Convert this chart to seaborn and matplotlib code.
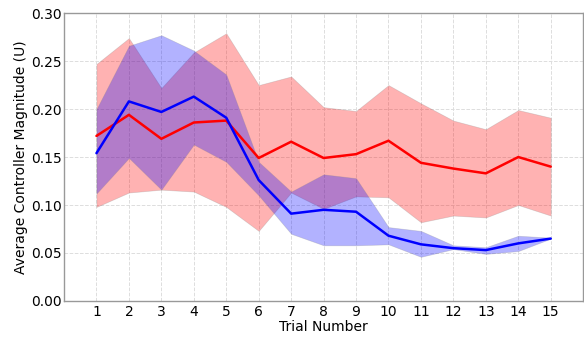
import numpy as np
import pandas as pd
import matplotlib
matplotlib.use("Agg")
import matplotlib.pyplot as plt
import seaborn as sns

trials = list(range(1, 16))

red_mean = [0.172, 0.194, 0.169, 0.186, 0.188, 0.149, 0.166, 0.149, 0.153, 0.167, 0.144, 0.138, 0.133, 0.150, 0.140]
red_upper = [0.247, 0.274, 0.222, 0.259, 0.279, 0.225, 0.234, 0.202, 0.198, 0.225, 0.206, 0.188, 0.179, 0.199, 0.191]
red_lower = [0.098, 0.113, 0.116, 0.114, 0.098, 0.073, 0.113, 0.096, 0.109, 0.108, 0.082, 0.089, 0.087, 0.100, 0.089]

blue_mean = [0.154, 0.208, 0.197, 0.213, 0.191, 0.126, 0.091, 0.095, 0.093, 0.068, 0.059, 0.055, 0.053, 0.060, 0.065]
blue_upper = [0.200, 0.266, 0.277, 0.261, 0.236, 0.145, 0.114, 0.132, 0.128, 0.077, 0.073, 0.058, 0.056, 0.068, 0.066]
blue_lower = [0.112, 0.149, 0.116, 0.163, 0.145, 0.110, 0.070, 0.058, 0.058, 0.059, 0.046, 0.054, 0.049, 0.052, 0.065]

xlabel = "Trial Number"
ylabel = "Average Controller Magnitude (U)"
yticks = [0.00, 0.05, 0.10, 0.15, 0.20, 0.25, 0.30]

sns.set_style("whitegrid", {"grid.linestyle": "--", "grid.color": "#dddddd",
                            "axes.edgecolor": "#999999"})
plt.rcParams['font.family'] = ['DejaVu Sans']
plt.rcParams['text.color'] = 'black'
plt.rcParams['axes.labelcolor'] = 'black'
plt.rcParams['xtick.color'] = 'black'
plt.rcParams['ytick.color'] = 'black'

fig = plt.figure(figsize=(5.84, 3.37), dpi=100)
ax = fig.add_axes([0.1096, 0.107, 0.889, 0.854])

df = pd.DataFrame({"trial": trials, "red": red_mean, "blue": blue_mean})

ax.fill_between(trials, red_lower, red_upper, color="red", alpha=0.3,
                edgecolor="#888888", linewidth=0.5, zorder=2)
ax.fill_between(trials, blue_lower, blue_upper, color="blue", alpha=0.3,
                edgecolor="#888888", linewidth=0.5, zorder=2)
sns.lineplot(data=df, x="trial", y="red", color="red", linewidth=1.8, ax=ax, zorder=3)
sns.lineplot(data=df, x="trial", y="blue", color="blue", linewidth=1.8, ax=ax, zorder=3)

ax.set_xlim(0, 16)
ax.set_ylim(0, 0.30)
ax.set_xticks(trials)
ax.set_xticklabels([str(t) for t in trials])
ax.set_yticks(yticks)
ax.set_yticklabels([f"{v:.2f}" for v in yticks])
ax.tick_params(axis="y", length=0, labelsize=10, pad=1.5)
ax.tick_params(axis="x", length=0, labelsize=10, pad=3)
ax.set_xlabel(xlabel, fontsize=10, labelpad=1)
ax.set_ylabel(ylabel, fontsize=10, labelpad=2)
for s in ax.spines.values():
    s.set_color("#999999")
    s.set_linewidth(1.0)
    s.set_visible(True)
ax.grid(True, linestyle="--", color="#dddddd", linewidth=0.7)

fig.savefig("out.png", dpi=100)
